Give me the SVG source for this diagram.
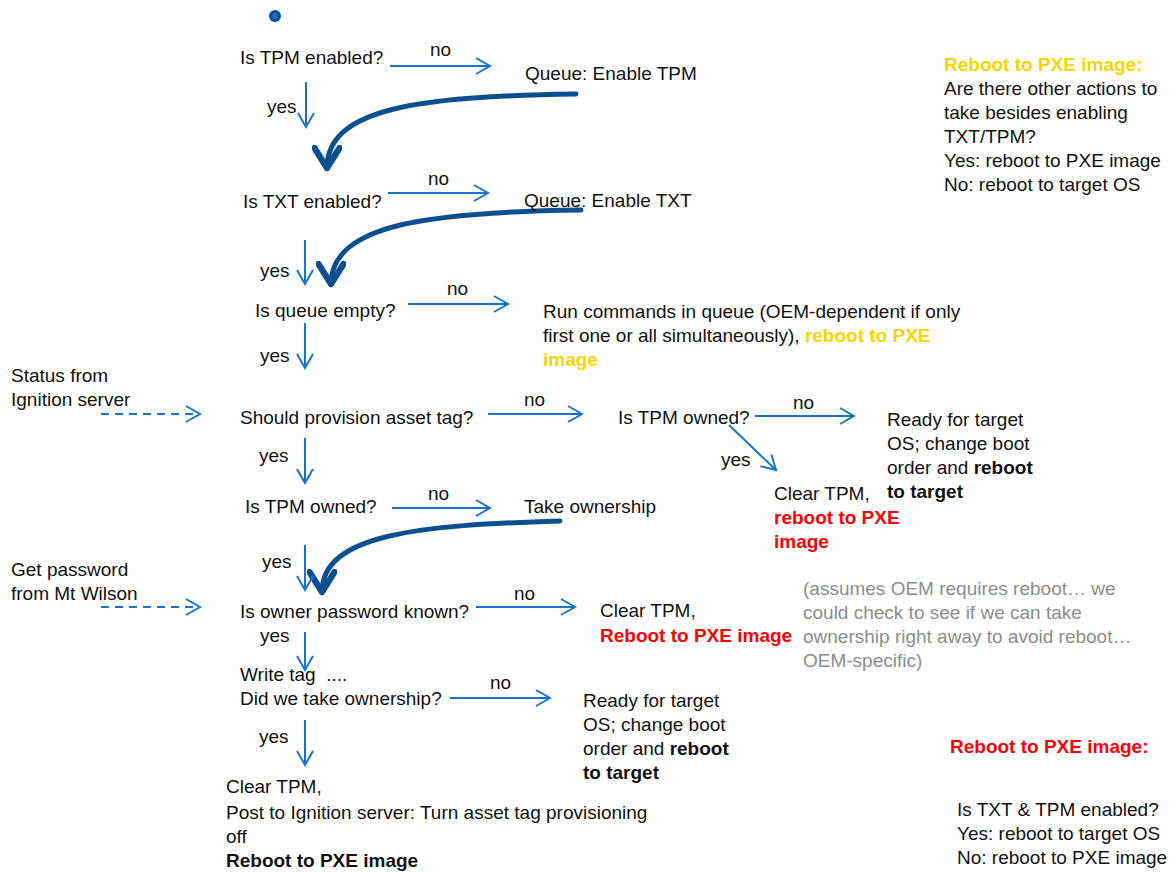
<svg xmlns="http://www.w3.org/2000/svg" width="1176" height="873" viewBox="0 0 1176 873">
<defs>
<marker id="ah" markerUnits="userSpaceOnUse" markerWidth="20" markerHeight="20" refX="16" refY="9" orient="auto" viewBox="0 0 20 18">
<path d="M2,1 L16,9 L2,17" fill="none" stroke="#1a73c9" stroke-width="2"/>
</marker>
<marker id="ahThick" markerUnits="userSpaceOnUse" markerWidth="30" markerHeight="30" refX="20" refY="12" orient="auto" viewBox="0 0 24 24">
<path d="M4,2 L20,12 L4,22" fill="none" stroke="#0b4f8f" stroke-width="5" stroke-linecap="round" stroke-linejoin="round"/>
</marker>
<style>
text{font-family:"Liberation Sans",Arial,sans-serif;font-size:19px;fill:#111}
.b{font-weight:bold}
.red{fill:#ff0000;font-weight:bold}
.yel{fill:#f5d400;font-weight:bold}
.gray{fill:#8c8c8c}
.arr{stroke:#1a73c9;stroke-width:2;fill:none;marker-end:url(#ah)}
.dash{stroke:#1a73c9;stroke-width:2;fill:none;stroke-dasharray:8,6;marker-end:url(#ah)}
.thick{stroke:#0b4f8f;stroke-width:5;fill:none;stroke-linecap:round;marker-end:url(#ahThick)}
</style>
</defs>
<rect width="1176" height="873" fill="#ffffff"/>
<g id="start"><circle cx="275" cy="16" r="6" fill="#0b4f8f"/><circle cx="275" cy="16" r="3" fill="#2a6cb8"/></g>

<g id="connectors">
<path class="arr" d="M390,66 L490,66"/>
<path class="arr" d="M306,82 L306,127"/>
<path class="thick" d="M576,94 C420,96 327,108 327,168"/>
<path class="arr" d="M388,193 L488,193"/>
<path class="arr" d="M305,240 L305,284"/>
<path class="thick" d="M581,210 C430,212 331,224 331,284"/>
<path class="arr" d="M408,304 L508,304"/>
<path class="arr" d="M305,323 L305,368"/>
<path class="dash" d="M101,414 L200,414"/>
<path class="arr" d="M488,414 L582,414"/>
<path class="arr" d="M755,416 L854,416"/>
<path class="arr" d="M729,425 L776,470"/>
<path class="arr" d="M305,438 L305,483"/>
<path class="arr" d="M392,508 L490,508"/>
<path class="thick" d="M560,521 C420,525 322,534 322,592"/>
<path class="arr" d="M305,545 L305,590"/>
<path class="dash" d="M101,607 L200,607"/>
<path class="arr" d="M476,607 L575,607"/>
<path class="arr" d="M305,632 L305,670"/>
<path class="arr" d="M450,698 L550,698"/>
<path class="arr" d="M305,720 L305,765"/>
<text x="430" y="56">no</text>
<text x="267" y="113">yes</text>
<text x="428" y="185">no</text>
<text x="260" y="277">yes</text>
<text x="447" y="295">no</text>
<text x="260" y="362">yes</text>
<text x="524" y="406">no</text>
<text x="793" y="409">no</text>
<text x="721" y="466">yes</text>
<text x="259" y="462">yes</text>
<text x="428" y="500">no</text>
<text x="262" y="568">yes</text>
<text x="514" y="600">no</text>
<text x="260" y="642">yes</text>
<text x="490" y="689">no</text>
<text x="259" y="743">yes</text>
</g>

<g id="n_tpm_enabled"><text x="240" y="64">Is TPM enabled?</text></g>
<g id="n_queue_tpm"><text x="525" y="80">Queue: Enable TPM</text></g>
<g id="n_txt_enabled"><text x="243" y="208">Is TXT enabled?</text></g>
<g id="n_queue_txt"><text x="524" y="207">Queue: Enable TXT</text></g>
<g id="n_queue_empty"><text x="255" y="317">Is queue empty?</text></g>
<g id="n_run_cmds">
<text x="543" y="318">Run commands in queue (OEM-dependent if only</text>
<text x="543" y="342">first one or all simultaneously), <tspan class="yel">reboot to PXE</tspan></text>
<text x="543" y="366" class="yel">image</text>
</g>
<g id="n_status"><text x="11" y="382">Status from</text><text x="11" y="406">Ignition server</text></g>
<g id="n_provision"><text x="240" y="424">Should provision asset tag?</text></g>
<g id="n_tpm_owned1"><text x="618" y="424">Is TPM owned?</text></g>
<g id="n_ready1">
<text x="887" y="426">Ready for target</text>
<text x="887" y="450">OS; change boot</text>
<text x="887" y="474">order and <tspan class="b">reboot</tspan></text>
<text x="887" y="498" class="b">to target</text>
</g>
<g id="n_clear1">
<text x="774" y="500">Clear TPM,</text>
<text x="774" y="524" class="red">reboot to PXE</text>
<text x="774" y="548" class="red">image</text>
</g>
<g id="n_tpm_owned2"><text x="245" y="513">Is TPM owned?</text></g>
<g id="n_take"><text x="524" y="513">Take ownership</text></g>
<g id="n_getpw"><text x="11" y="576">Get password</text><text x="11" y="600">from Mt Wilson</text></g>
<g id="n_pw_known"><text x="240" y="618">Is owner password known?</text></g>
<g id="n_clear2">
<text x="600" y="617">Clear TPM,</text>
<text x="600" y="642" class="red">Reboot to PXE image</text>
</g>
<g id="n_note">
<text x="803" y="595" class="gray">(assumes OEM requires reboot… we</text>
<text x="803" y="619" class="gray">could check to see if we can take</text>
<text x="803" y="643" class="gray">ownership right away to avoid reboot…</text>
<text x="803" y="667" class="gray">OEM-specific)</text>
</g>
<g id="n_write">
<text x="240" y="681" xml:space="preserve">Write tag  ....</text>
<text x="240" y="705">Did we take ownership?</text>
</g>
<g id="n_ready2">
<text x="583" y="707">Ready for target</text>
<text x="583" y="731">OS; change boot</text>
<text x="583" y="755">order and <tspan class="b">reboot</tspan></text>
<text x="583" y="779" class="b">to target</text>
</g>
<g id="n_final">
<text x="226" y="793">Clear TPM,</text>
<text x="226" y="819">Post to Ignition server: Turn asset tag provisioning</text>
<text x="226" y="843">off</text>
<text x="226" y="867" class="b">Reboot to PXE image</text>
</g>
<g id="n_legend_yellow">
<text x="944" y="71" class="yel">Reboot to PXE image:</text>
<text x="944" y="95">Are there other actions to</text>
<text x="944" y="119">take besides enabling</text>
<text x="944" y="143">TXT/TPM?</text>
<text x="944" y="167">Yes: reboot to PXE image</text>
<text x="944" y="191">No: reboot to target OS</text>
</g>
<g id="n_legend_red">
<text x="950" y="753" class="red">Reboot to PXE image:</text>
<text x="957" y="816">Is TXT &amp; TPM enabled?</text>
<text x="957" y="840">Yes: reboot to target OS</text>
<text x="957" y="864">No: reboot to PXE image</text>
</g>
</svg>
